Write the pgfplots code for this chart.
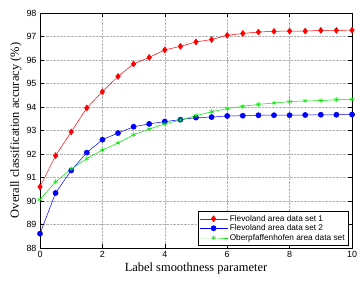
\documentclass[border=0pt]{standalone}
\usepackage{fontspec}
\setmainfont{Liberation Serif}
\newfontfamily\legfont{Liberation Sans}
\usepackage{pgfplots}
\pgfplotsset{compat=1.18}
\begin{document}
\begin{tikzpicture}
\path[use as bounding box] (0,0) rectangle (360bp,284bp);
\begin{axis}[
  at={(40bp,36bp)}, anchor=south west,
  scale only axis, width=312bp, height=235bp,
  xmin=0, xmax=10, ymin=88, ymax=98,
  xtick={0,2,4,6,8,10}, ytick={88,89,...,98},
  grid=major, major grid style={densely dotted, gray!60, line width=0.4pt},
  tick align=inside, tick style={black, line width=0.4pt},
  axis line style={line width=0.5pt},
  /pgf/number format/assume math mode=true,
  tick label style={font=\legfont\fontsize{9}{10}\selectfont},
  label style={font=\fontsize{12.5}{13}\selectfont},
  xlabel={Label smoothness parameter},
  ylabel={Overall classification accuracy (\%)},
  xlabel style={yshift=2bp},
  ylabel style={yshift=-2bp},
  legend style={at={(0.988,0.012)}, anchor=south east, font=\legfont\fontsize{8.3}{9}\selectfont, draw=black, line width=0.4pt, inner sep=1.5pt, row sep=-2pt, cells={anchor=west}},
  legend cell align=left,
  legend image code/.code={\draw[mark repeat=2,mark phase=2] plot coordinates {(0bp,0bp) (14bp,0bp) (28bp,0bp)};},
]
\addplot[red, line width=0.5pt, mark=diamond*, mark size=3pt, mark options={fill=red}] coordinates {
(0,90.60) (0.5,91.93) (1,92.94) (1.5,93.96) (2,94.65) (2.5,95.30) (3,95.83) (3.5,96.11) (4,96.43) (4.5,96.58)
(5,96.77) (5.5,96.87) (6,97.05) (6.5,97.13) (7,97.19) (7.5,97.22) (8,97.23) (8.5,97.23) (9,97.26) (9.5,97.26) (10,97.27)};
\addlegendentry{Flevoland area data set 1}
\addplot[blue, line width=0.5pt, mark=*, mark size=2.6pt, mark options={fill=blue}] coordinates {
(0,88.61) (0.5,90.34) (1,91.30) (1.5,92.06) (2,92.61) (2.5,92.89) (3,93.16) (3.5,93.28) (4,93.38) (4.5,93.46)
(5,93.55) (5.5,93.57) (6,93.62) (6.5,93.63) (7,93.65) (7.5,93.65) (8,93.65) (8.5,93.66) (9,93.67) (9.5,93.67) (10,93.68)};
\addlegendentry{Flevoland area data set 2}
\addplot[green!90!black, line width=0.5pt, mark=asterisk, mark size=2.5pt] coordinates {
(0,90.06) (0.5,90.82) (1,91.36) (1.5,91.80) (2,92.17) (2.5,92.47) (3,92.82) (3.5,93.06) (4,93.28) (4.5,93.45)
(5,93.63) (5.5,93.80) (6,93.93) (6.5,94.03) (7,94.11) (7.5,94.17) (8,94.23) (8.5,94.26) (9,94.27) (9.5,94.31) (10,94.33)};
\addlegendentry{Oberpfaffenhofen area data set}
\end{axis}
\end{tikzpicture}
\end{document}
